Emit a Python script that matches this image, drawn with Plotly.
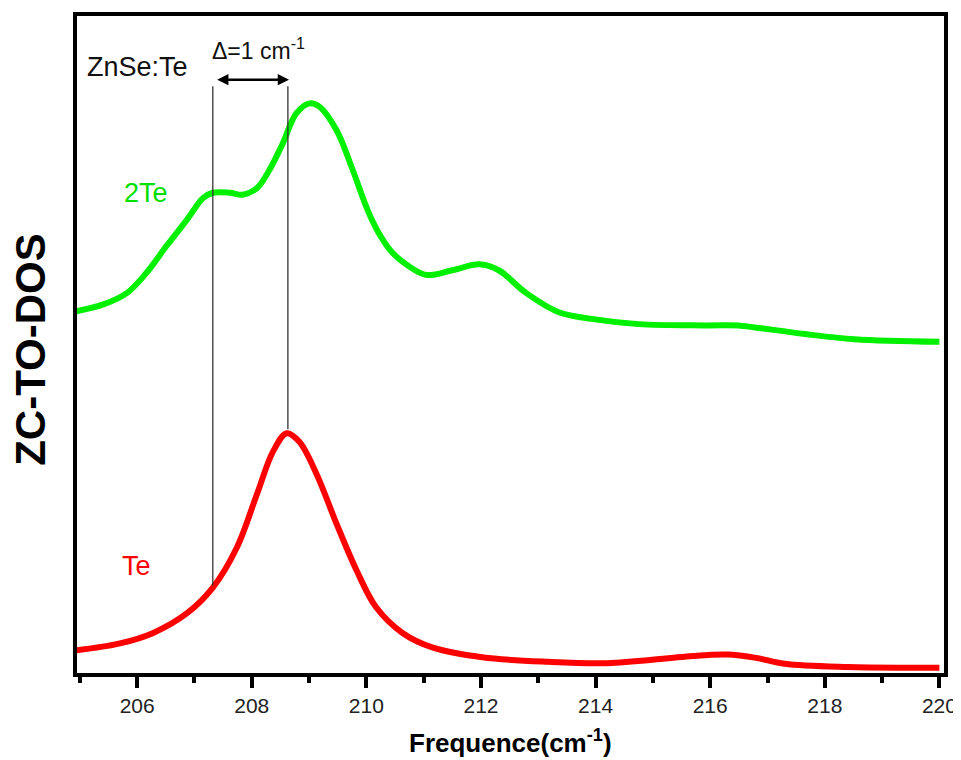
import plotly.graph_objects as go

# ---- data ----
freq_2te = [204.90, 205.41, 205.83, 206.17, 206.52, 206.87, 207.15, 207.32, 207.62, 207.84,
            208.09, 208.31, 208.54, 208.78, 209.01, 209.18, 209.48, 209.76, 210.02, 210.22,
            210.45, 210.71, 211.04, 211.50, 211.97, 212.31, 212.78, 213.36, 213.93, 214.75,
            215.91, 216.49, 216.78, 217.65, 218.52, 220.00]
dos_2te = [55.0, 56.1, 57.9, 61.0, 65.1, 69.0, 72.3, 73.1, 73.1, 72.8,
           73.8, 76.6, 80.6, 85.2, 86.7, 86.2, 82.6, 76.6, 70.5, 66.9,
           64.0, 62.1, 60.6, 61.3, 62.2, 61.3, 57.9, 54.9, 53.9, 53.1,
           52.9, 52.9, 52.6, 51.6, 50.8, 50.4]

freq_te = [204.90, 205.70, 206.28, 206.87, 207.32, 207.74, 208.09, 208.37, 208.61, 208.83,
           209.13, 209.48, 209.83, 210.17, 210.63, 211.15, 212.02, 213.18, 214.20, 215.22,
           215.70, 216.30, 216.80, 217.30, 218.40, 219.50, 220.00]
dos_te = [3.4, 4.5, 6.1, 9.1, 13.0, 19.1, 27.2, 33.7, 36.5, 35.2,
          30.3, 22.7, 15.6, 10.0, 6.1, 3.9, 2.4, 1.7, 1.5, 2.2,
          2.6, 2.8, 2.3, 1.4, 0.9, 0.8, 0.8]

x_ticks = [206, 208, 210, 212, 214, 216, 218, 220]
x_range = [204.95, 220.08]
y_range = [0, 100]

# marker lines (ZnSe:Te position vs Te peak)
line_pos = [207.32, 208.63]
line_bottom = [13.3, 37.1]
line_top = 89.3
arrow_y = 90.3

FONT = "Liberation Sans, Arial, Helvetica, sans-serif"

fig = go.Figure()
fig.add_trace(go.Scatter(x=freq_2te, y=dos_2te, mode="lines", name="2Te",
                         line=dict(color="#00f000", width=6, shape="spline", smoothing=1.0)))
fig.add_trace(go.Scatter(x=freq_te, y=dos_te, mode="lines", name="Te",
                         line=dict(color="#ff0000", width=6, shape="spline", smoothing=1.0)))

for xp, yb in zip(line_pos, line_bottom):
    fig.add_shape(type="line", xref="x", yref="y", x0=xp, x1=xp, y0=yb, y1=line_top,
                  line=dict(color="#333333", width=1.3))

# double-headed arrow
fig.add_annotation(x=line_pos[1] + 0.02, y=arrow_y, ax=line_pos[0] + 0.05, ay=arrow_y,
                   xref="x", yref="y", axref="x", ayref="y", text="", showarrow=True,
                   arrowhead=2, arrowside="end+start", arrowsize=0.9, arrowwidth=2.5,
                   arrowcolor="black")

fig.add_annotation(x=206.01, y=92.2, xref="x", yref="y", text="ZnSe:Te", showarrow=False,
                   font=dict(family=FONT, size=27, color="#111111"))
fig.add_annotation(x=208.12, y=95.0, xref="x", yref="y", text="Δ=1 cm<sup>-1</sup>",
                   showarrow=False, font=dict(family=FONT, size=23, color="#111111"))
fig.add_annotation(x=206.15, y=73.1, xref="x", yref="y", text="2Te", showarrow=False,
                   font=dict(family=FONT, size=27, color="#00e000"))
fig.add_annotation(x=205.99, y=16.3, xref="x", yref="y", text="Te", showarrow=False,
                   font=dict(family=FONT, size=27, color="#ff0000"))

# axis titles
fig.add_annotation(x=-0.053, y=0.492, xref="paper", yref="paper", text="<b>ZC-TO-DOS</b>",
                   textangle=-90, showarrow=False, xanchor="center", yanchor="middle",
                   font=dict(family=FONT, size=42, color="black"))
fig.add_annotation(x=0.5, y=-0.104, xref="paper", yref="paper",
                   text="<b>Frequence(cm<sup>-1</sup>)</b>", showarrow=False,
                   xanchor="center", yanchor="middle",
                   font=dict(family=FONT, size=26, color="black"))

# page body has an 8px margin, so the figure is sized to fit the 961x760 window
fig.update_layout(
    width=953, height=752,
    margin=dict(l=69, r=14, t=4, b=87),
    paper_bgcolor="white", plot_bgcolor="white",
    showlegend=False,
    xaxis=dict(range=x_range, tickvals=x_ticks, ticks="outside", ticklen=11, tickwidth=4,
               tickcolor="black", showline=True, linewidth=4, linecolor="black", mirror=True,
               showgrid=False, zeroline=False,
               tickfont=dict(family=FONT, size=21, color="#222222"),
               minor=dict(dtick=1, tick0=205, ticks="outside", ticklen=6, tickwidth=4,
                          tickcolor="black", showgrid=False)),
    yaxis=dict(range=y_range, showticklabels=False, ticks="", showline=True, linewidth=4,
               linecolor="black", mirror=True, showgrid=False, zeroline=False),
)

fig.write_html("out.html")
